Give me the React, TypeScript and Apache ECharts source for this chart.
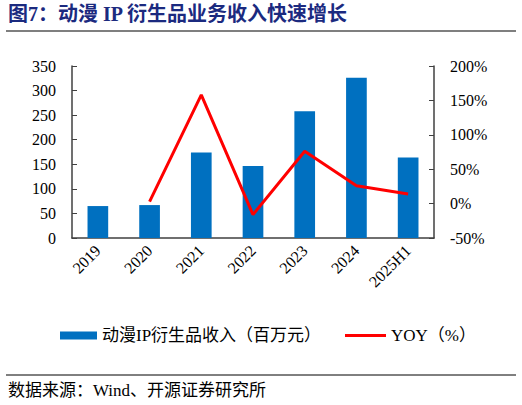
import React, { useEffect, useRef } from "react";
import * as echarts from "echarts";

const categories = ["2019", "2020", "2021", "2022", "2023", "2024", "2025H1"];
const revenue = [65, 67, 174, 146.5, 258, 326, 164];
const yoy = [null, 3, 158, -16, 76, 26, 14];
const leftTicks = { min: 0, max: 350, interval: 50 };
const rightTicks = { min: -50, max: 200, interval: 50 };

const barName = "动漫IP衍生品收入（百万元）";
const lineName = "YOY（%）";
const titleText = "图7：动漫 IP 衍生品业务收入快速增长";
const sourceText = "数据来源：Wind、开源证券研究所";

const FONT = "'Liberation Serif', 'Times New Roman', 'Noto Sans CJK SC', serif";

export default function App() {
  const ref = useRef<HTMLDivElement>(null);
  useEffect(() => {
    if (!ref.current) return;
    const chart = echarts.init(ref.current, null, { renderer: "svg" });
    const axisColor = "#404040";
    const legendText = { fontSize: 17, color: "#000", fontFamily: FONT };
    chart.setOption({
      animation: false,
      backgroundColor: "#ffffff",
      textStyle: { fontFamily: FONT },
      grid: { left: 72, right: 88, top: 66, bottom: 167, containLabel: false },
      graphic: [
        {
          type: "text",
          left: 8,
          top: 4,
          style: {
            text: titleText,
            fontSize: 20,
            fontWeight: "bold",
            fill: "#1B2A7F",
            fontFamily: FONT,
          },
        },
        {
          type: "line",
          shape: { x1: 6, y1: 31, x2: 516, y2: 31 },
          style: { stroke: "#000", lineWidth: 1.2 },
        },
        {
          type: "line",
          shape: { x1: 6, y1: 375, x2: 516, y2: 375 },
          style: { stroke: "#000", lineWidth: 1 },
        },
        {
          type: "text",
          left: 8,
          top: 382,
          style: {
            text: sourceText,
            fontSize: 17,
            fill: "#000",
            fontFamily: FONT,
          },
        },
      ],
      legend: [
        {
          left: 55,
          top: 322,
          itemWidth: 37,
          itemHeight: 8,
          itemGap: 18,
          textStyle: legendText,
          data: [{ name: barName, icon: "rect" }],
        },
        {
          left: 340,
          top: 322,
          itemWidth: 41,
          itemHeight: 3,
          textStyle: legendText,
          data: [{ name: lineName, icon: "rect", itemStyle: { color: "#FF0000" } }],
        },
      ],
      xAxis: {
        type: "category",
        data: categories,
        boundaryGap: true,
        axisLine: { lineStyle: { color: axisColor, width: 1.5 } },
        axisTick: { inside: true, length: 5, lineStyle: { color: axisColor } },
        axisLabel: {
          rotate: 45,
          margin: 10,
          fontSize: 16,
          color: "#000",
          fontFamily: FONT,
          interval: 0,
        },
      },
      yAxis: [
        {
          type: "value",
          min: leftTicks.min,
          max: leftTicks.max,
          interval: leftTicks.interval,
          splitLine: { show: false },
          axisLine: { show: true, lineStyle: { color: axisColor, width: 1.5 } },
          axisTick: { show: true, inside: true, length: 5, lineStyle: { color: axisColor } },
          axisLabel: { fontSize: 16, color: "#000", margin: 16, fontFamily: FONT },
        },
        {
          type: "value",
          min: rightTicks.min,
          max: rightTicks.max,
          interval: rightTicks.interval,
          splitLine: { show: false },
          axisLine: { show: true, lineStyle: { color: axisColor, width: 1.5 } },
          axisTick: { show: true, inside: true, length: 5, lineStyle: { color: axisColor } },
          axisLabel: {
            fontSize: 16,
            color: "#000",
            margin: 16,
            fontFamily: FONT,
            formatter: "{value}%",
          },
        },
      ],
      series: [
        {
          name: barName,
          type: "bar",
          data: revenue,
          barWidth: "40%",
          itemStyle: { color: "#0070C0" },
        },
        {
          name: lineName,
          type: "line",
          yAxisIndex: 1,
          data: yoy,
          symbol: "none",
          lineStyle: { color: "#FF0000", width: 3 },
          itemStyle: { color: "#FF0000" },
        },
      ],
    });
    return () => chart.dispose();
  }, []);
  return (
    <div
      ref={ref}
      style={{ position: "fixed", left: 0, top: 0, width: 522, height: 405, background: "#fff" }}
    />
  );
}
